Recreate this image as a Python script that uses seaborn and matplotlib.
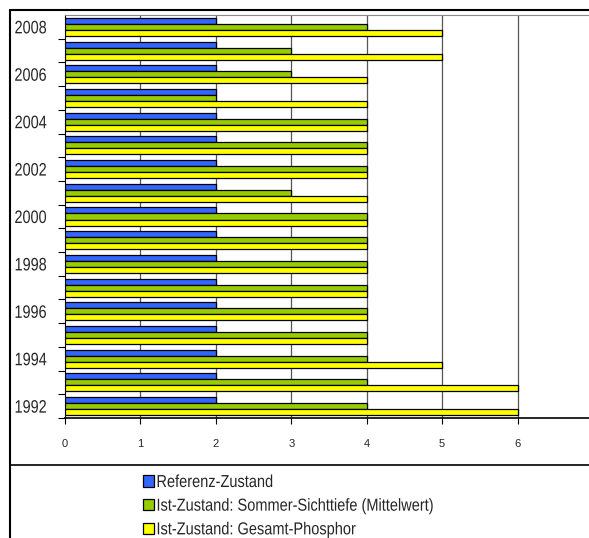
import matplotlib
matplotlib.use("Agg")
import matplotlib.pyplot as plt
from matplotlib.lines import Line2D
from matplotlib.patheffects import AbstractPathEffect
from matplotlib.transforms import Affine2D
import seaborn as sns
import pandas as pd

years = list(range(2008, 1991, -1))
referenz = [2, 2, 2, 2, 2, 2, 2, 2, 2, 2, 2, 2, 2, 2, 2, 2, 2]
sichttiefe = [4, 3, 3, 2, 4, 4, 4, 3, 4, 4, 4, 4, 4, 4, 4, 4, 4]
phosphor = [5, 5, 4, 4, 4, 4, 4, 4, 4, 4, 4, 4, 4, 4, 5, 6, 6]
series_names = [
    "Referenz-Zustand",
    "Ist-Zustand: Sommer-Sichttiefe (Mittelwert)",
    "Ist-Zustand: Gesamt-Phosphor",
]
colors = ["#3366FF", "#99CC00", "#FFFF00"]
x_ticks = [0, 1, 2, 3, 4, 5, 6]

rows = []
for name, vals in zip(series_names, [referenz, sichttiefe, phosphor]):
    for y, v in zip(years, vals):
        rows.append({"Jahr": str(y), "Serie": name, "Wert": v})
df = pd.DataFrame(rows)


class Condense(AbstractPathEffect):
    """Squeeze text horizontally to imitate a narrow typeface."""

    def __init__(self, sx=0.82, anchor="left"):
        super().__init__()
        self.sx = sx
        self.anchor = anchor

    def draw_path(self, renderer, gc, tpath, affine, rgbFace=None):
        ext = tpath.get_extents(affine)
        x0 = ext.x1 if self.anchor == "right" else ext.x0
        squeeze = Affine2D().translate(-x0, 0).scale(self.sx, 1).translate(x0, 0)
        renderer.draw_path(gc, tpath, affine + squeeze, rgbFace)


sns.set_style("white")
plt.rcParams["font.family"] = ["Liberation Sans", "DejaVu Sans"]

W, H = 589, 538
fig = plt.figure(figsize=(W / 100, H / 100), dpi=100)
ax = fig.add_axes([65 / W, 1 - 418 / H, 528 / W, (418 - 15) / H])

order = [str(y) for y in years]
sns.barplot(data=df, y="Jahr", x="Wert", hue="Serie", order=order,
            hue_order=series_names, palette=colors, orient="h",
            width=0.76, gap=0, edgecolor="black", linewidth=0.9,
            saturation=1, ax=ax, zorder=3)

ax.set_xlim(0, 7)
ax.set_ylim(len(years) - 0.5, -0.5)
ax.set_xticks(x_ticks)
ax.set_xticklabels([str(t) for t in x_ticks], fontsize=8)
ax.tick_params(axis="x", direction="out", length=4, width=0.8, pad=11,
               color="black", bottom=True)

# labels on every other year, ticks on every category boundary
label_idx = list(range(0, len(years), 2))
ax.set_yticks(label_idx)
ax.set_yticklabels([order[i] for i in label_idx])
for lab in ax.get_yticklabels():
    lab.set_fontsize(13)
    lab.set_path_effects([Condense(0.8, "right")])
ax.tick_params(axis="y", which="major", length=0, pad=13)
ax.set_yticks([i - 0.5 for i in range(1, len(years) + 1)], minor=True)
ax.tick_params(axis="y", which="minor", length=5, width=0.8, color="black",
               left=True)

ax.set_xlabel("")
ax.set_ylabel("")
for xv in x_ticks[1:]:
    ax.axvline(xv, color="#555555", linewidth=0.9, zorder=1)
ax.spines["left"].set_color("black")
ax.spines["bottom"].set_color("black")
ax.spines["bottom"].set_linewidth(1.2)
ax.spines["top"].set_color("#888888")
ax.spines["right"].set_visible(False)

handles, labels = ax.get_legend_handles_labels()
ax.legend_.remove()
leg = fig.legend(handles, labels, loc="upper left",
                 bbox_to_anchor=(143 / W, 1 - 475 / H), frameon=False,
                 prop={"size": 12.5},
                 handlelength=0.62, handleheight=0.62, handletextpad=0.14,
                 labelspacing=0.5, borderpad=0, borderaxespad=0)
for t in leg.get_texts():
    t.set_path_effects([Condense(0.84, "left")])

# outer frame and separator between chart and legend
fy = lambda py: 1 - py / H
fx = lambda px: px / W
fig.add_artist(Line2D([fx(10), 1], [fy(10), fy(10)], color="black", lw=1.5))
fig.add_artist(Line2D([fx(10), fx(10)], [fy(10), 0], color="black", lw=1.5))
fig.add_artist(Line2D([fx(10), 1], [fy(465), fy(465)], color="black", lw=1.2))

fig.savefig("out.png", dpi=100)
